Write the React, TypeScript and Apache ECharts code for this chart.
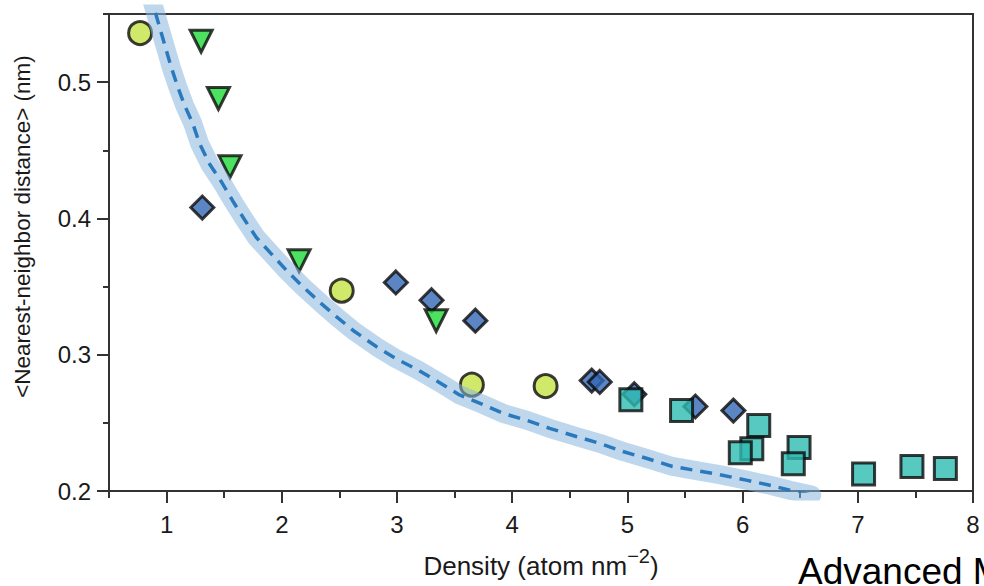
import { useEffect, useRef } from 'react';
import * as echarts from 'echarts';

// Measured nearest-neighbour distances, [density (atom nm^-2), distance (nm)]
const circlePoints: [number, number][] = [
  [0.77, 0.536], [2.52, 0.347], [3.65, 0.278], [4.29, 0.277],
];
const trianglePoints: [number, number][] = [
  [1.3, 0.53], [1.45, 0.488], [1.55, 0.438], [2.15, 0.369], [3.34, 0.325],
];
const diamondPoints: [number, number][] = [
  [1.31, 0.408], [2.99, 0.353], [3.3, 0.34], [3.68, 0.325], [4.69, 0.281],
  [4.76, 0.28], [5.06, 0.271], [5.59, 0.262], [5.92, 0.259],
];
const squarePoints: [number, number][] = [
  [5.03, 0.267], [5.47, 0.259], [6.14, 0.248], [6.08, 0.231], [5.98, 0.228],
  [6.49, 0.232], [6.44, 0.22], [7.05, 0.2125], [7.47, 0.218], [7.76, 0.2165],
];

// Model curve (dashed) with its uncertainty band
const modelCurve: [number, number][] = [
  [0.855, 0.565], [0.93, 0.543], [1.04, 0.511], [1.095, 0.497], [1.156, 0.483],
  [1.226, 0.47], [1.286, 0.455], [1.373, 0.44], [1.475, 0.427], [1.573, 0.413],
  [1.677, 0.399], [1.779, 0.386], [1.909, 0.374], [2.039, 0.362], [2.181, 0.35],
  [2.343, 0.3375], [2.473, 0.328], [2.632, 0.317], [2.82, 0.306], [2.994, 0.297],
  [3.179, 0.289], [3.399, 0.278], [3.543, 0.2705], [3.732, 0.264], [3.92, 0.257],
  [4.122, 0.252], [4.325, 0.246], [4.556, 0.24], [4.759, 0.235], [4.961, 0.229],
  [5.164, 0.224], [5.392, 0.218], [5.598, 0.215], [5.8, 0.212], [6.032, 0.208],
  [6.249, 0.204], [6.41, 0.2005], [6.6, 0.197],
];

// Axis ticks
const xMajorTicks = [1, 2, 3, 4, 5, 6, 7, 8];
const xMinorTicks = [0.5, 1.5, 2.5, 3.5, 4.5, 5.5, 6.5, 7.5];
const yMajorTicks = [0.2, 0.3, 0.4, 0.5];
const yMinorTicks = [0.25, 0.35, 0.45, 0.55];

const FONT = '"Liberation Sans", Arial, Helvetica, sans-serif';
const AXIS_COLOR = '#333';
const TEXT_COLOR = '#1a1a1a';

const markerStyle = (color: string) => ({
  color,
  borderColor: '#0a0a0a',
  borderWidth: 3,
});

export default function App() {
  const ref = useRef<HTMLDivElement>(null);

  useEffect(() => {
    const chart = echarts.init(ref.current!, null, { renderer: 'svg' });
    const axisLine = { show: true, lineStyle: { color: AXIS_COLOR, width: 2 } };
    const tickLine = { color: AXIS_COLOR, width: 2 };

    chart.setOption({
      animation: false,
      backgroundColor: '#fff',
      grid: {
        left: 109, right: 11, top: 14, bottom: 95,
        outerBoundsMode: 'none',
        show: true, borderColor: AXIS_COLOR, borderWidth: 2,
        backgroundColor: 'transparent',
      },
      xAxis: [
        {
          type: 'value', min: 0.5, max: 8, position: 'bottom',
          axisLine,
          axisTick: { show: true, length: 12, customValues: xMajorTicks, lineStyle: tickLine },
          axisLabel: {
            customValues: xMajorTicks, margin: 21, fontSize: 24,
            fontFamily: FONT, color: TEXT_COLOR,
            formatter: (v: number) => String(v),
          },
          splitLine: { show: false },
          name: '{t|Density (atom nm}{s|−2}{t|)}',
          nameLocation: 'middle',
          nameGap: 55,
          nameTextStyle: {
            rich: {
              t: { fontSize: 26, fontFamily: FONT, color: TEXT_COLOR, lineHeight: 33, verticalAlign: 'bottom' },
              s: { fontSize: 20, fontFamily: FONT, color: TEXT_COLOR, lineHeight: 19, verticalAlign: 'top' },
            },
          },
        },
        {
          type: 'value', min: 0.5, max: 8, position: 'bottom',
          axisLine: { show: false },
          axisTick: { show: true, length: 7, customValues: xMinorTicks, lineStyle: tickLine },
          axisLabel: { show: false },
          splitLine: { show: false },
        },
      ],
      yAxis: [
        {
          type: 'value', min: 0.2, max: 0.55, interval: 0.1, position: 'left',
          axisLine,
          axisTick: { show: true, length: 12, customValues: yMajorTicks, lineStyle: tickLine },
          axisLabel: {
            customValues: yMajorTicks, margin: 18, fontSize: 24,
            fontFamily: FONT, color: TEXT_COLOR,
            formatter: (v: number) => v.toFixed(1),
          },
          splitLine: { show: false },
          name: '<Nearest-neighbor distance> (nm)',
          nameLocation: 'middle',
          nameGap: 75,
          nameTextStyle: {
            fontSize: 22.5, fontFamily: FONT, color: TEXT_COLOR,
            padding: [0, 0, 0, 52],
          },
        },
        {
          type: 'value', min: 0.2, max: 0.55, position: 'left',
          axisLine: { show: false },
          axisTick: { show: true, length: 6, customValues: yMinorTicks, lineStyle: tickLine },
          axisLabel: { show: false },
          splitLine: { show: false },
        },
      ],
      graphic: [
        {
          type: 'text', x: 798, y: 553,
          style: {
            text: 'Advanced Materials', fontSize: 37, fontFamily: FONT,
            fill: '#000', verticalAlign: 'top',
          },
        },
      ],
      series: [
        {
          type: 'scatter', name: 'diamond', data: diamondPoints,
          symbol: 'diamond', symbolSize: 23, itemStyle: markerStyle('#3367b5'),
        },
        {
          type: 'scatter', name: 'triangle', data: trianglePoints,
          symbol: 'triangle', symbolRotate: 180, symbolSize: 22, itemStyle: markerStyle('#1fd93a'),
        },
        {
          type: 'scatter', name: 'circle', data: circlePoints,
          symbol: 'circle', symbolSize: 23, itemStyle: markerStyle('#c6e445'),
        },
        {
          type: 'scatter', name: 'square', data: squarePoints,
          symbol: 'rect', symbolSize: 22, itemStyle: markerStyle('#2ebcb1'),
        },
        {
          type: 'line', name: 'band', data: modelCurve, symbol: 'none', silent: true,
          lineStyle: { color: 'rgba(137,182,220,0.55)', width: 19, cap: 'round', join: 'round' },
        },
        {
          type: 'line', name: 'model', data: modelCurve, symbol: 'none', silent: true,
          lineStyle: { color: '#2a79bd', width: 3.5, type: [12, 8] },
        },
      ],
    });
    return () => chart.dispose();
  }, []);

  return (
    <div
      ref={ref}
      style={{ position: 'fixed', left: 0, top: 0, width: 984, height: 586, background: '#fff' }}
    />
  );
}
